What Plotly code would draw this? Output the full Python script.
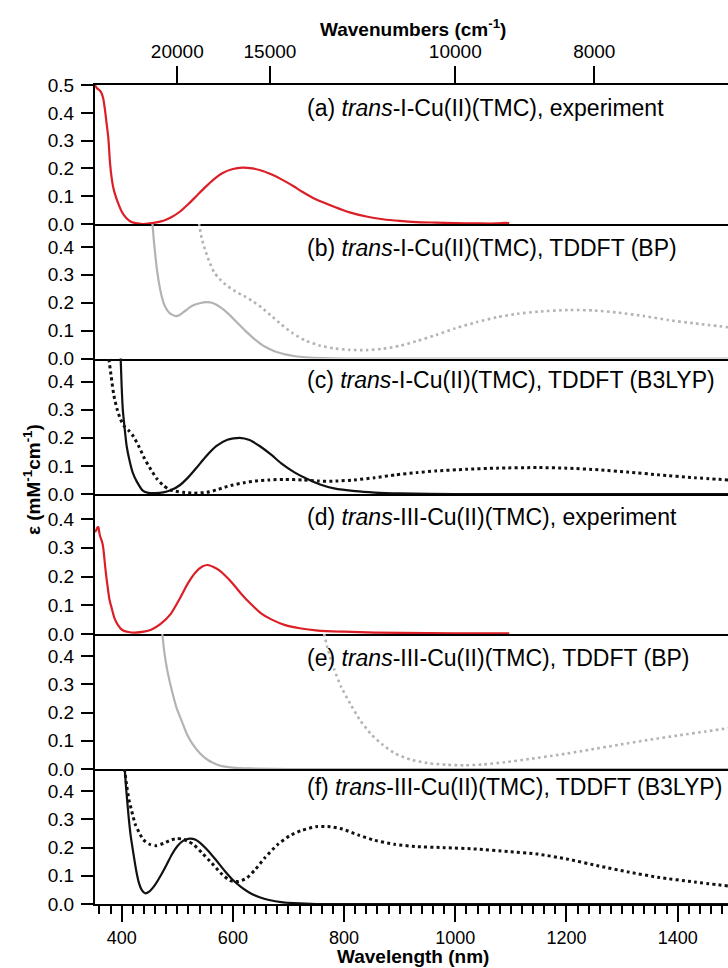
import plotly.graph_objects as go

FONT = "Liberation Sans, Arial, Helvetica, sans-serif"

# ---- (a) trans-I-Cu(II)(TMC), experiment ----
wl_a_exp = [352, 355, 358, 361, 364, 367, 370, 373, 376, 379, 382, 385, 390, 395, 400, 407,
            415, 425, 438, 450, 460, 475, 490, 505, 520, 535, 550, 565, 580, 600, 617, 635,
            655, 672, 690, 710, 724, 750, 782, 810, 840, 870, 900, 930, 965, 1000, 1040,
            1075, 1090, 1097]
eps_a_exp = [0.50, 0.49, 0.485, 0.48, 0.47, 0.45, 0.41, 0.36, 0.31, 0.22, 0.165, 0.13, 0.095,
             0.068, 0.045, 0.024, 0.01, 0.003, 0.0, 0.002, 0.005, 0.012, 0.025, 0.045, 0.072,
             0.102, 0.132, 0.16, 0.182, 0.198, 0.203, 0.2, 0.19, 0.176, 0.158, 0.135, 0.117,
             0.088, 0.062, 0.042, 0.027, 0.017, 0.011, 0.007, 0.005, 0.003, 0.002, 0.002,
             0.004, 0.003]

# ---- (b) trans-I-Cu(II)(TMC), TDDFT (BP) ----
wl_b_solid = [455, 458, 461, 464, 468, 473, 478, 486, 497, 505, 515, 526, 540, 553, 565, 578,
              592, 608, 622, 640, 658, 676, 694, 712, 731, 760, 800, 900, 1000, 1200, 1491]
eps_b_solid = [0.49, 0.42, 0.36, 0.31, 0.26, 0.215, 0.186, 0.163, 0.152, 0.157, 0.172, 0.188,
               0.198, 0.202, 0.198, 0.183, 0.16, 0.128, 0.1, 0.068, 0.042, 0.025, 0.015, 0.008,
               0.004, 0.001, 0.0, 0.0, 0.0, 0.0, 0.0]
wl_b_dot = [539, 544, 550, 557, 566, 576, 590, 605, 620, 636, 652, 668, 687, 708, 731, 757,
            782, 810, 840, 870, 899, 930, 965, 1000, 1038, 1075, 1111, 1150, 1206, 1250, 1294,
            1340, 1382, 1430, 1491]
eps_b_dot = [0.485, 0.43, 0.39, 0.35, 0.31, 0.285, 0.26, 0.24, 0.224, 0.205, 0.182, 0.155,
             0.122, 0.09, 0.064, 0.046, 0.036, 0.031, 0.03, 0.035, 0.045, 0.062, 0.084, 0.108,
             0.13, 0.148, 0.16, 0.168, 0.174, 0.172, 0.164, 0.152, 0.138, 0.126, 0.112]

# ---- (c) trans-I-Cu(II)(TMC), TDDFT (B3LYP) ----
wl_c_solid = [398, 400, 402, 405, 409, 414, 420, 427, 438, 448, 460, 475, 490, 505, 520, 535,
              550, 570, 590, 612, 630, 650, 670, 687, 710, 731, 757, 782, 820, 855, 900, 1000,
              1200, 1491]
eps_c_solid = [0.49, 0.38, 0.3, 0.24, 0.17, 0.12, 0.075, 0.045, 0.012, 0.004, 0.003, 0.006,
               0.015, 0.032, 0.06, 0.094, 0.13, 0.17, 0.193, 0.2, 0.192, 0.168, 0.138, 0.109,
               0.078, 0.056, 0.034, 0.02, 0.01, 0.005, 0.002, 0.0, 0.0, 0.0]
wl_c_dot = [377, 381, 386, 392, 398, 405, 413, 421, 432, 440, 450, 463, 475, 487, 497, 510,
            530, 553, 570, 585, 600, 620, 640, 665, 694, 725, 753, 785, 818, 855, 892, 930,
            965, 1020, 1075, 1148, 1200, 1258, 1310, 1367, 1430, 1491]
eps_c_dot = [0.48, 0.42, 0.35, 0.3, 0.265, 0.24, 0.225, 0.205, 0.165, 0.13, 0.095, 0.055,
             0.03, 0.015, 0.01, 0.006, 0.003, 0.006, 0.014, 0.024, 0.032, 0.04, 0.046, 0.05,
             0.052, 0.05, 0.046, 0.046, 0.05, 0.058, 0.068, 0.076, 0.082, 0.088, 0.092, 0.094,
             0.092, 0.086, 0.078, 0.068, 0.058, 0.05]

# ---- (d) trans-III-Cu(II)(TMC), experiment ----
wl_d_exp = [352, 354, 356, 358, 360, 362, 364, 366, 368, 370, 372, 375, 378, 382, 387, 393,
            401, 412, 424, 440, 453, 470, 489, 505, 519, 533, 545, 555, 565, 575, 585, 600,
            614, 632, 650, 670, 694, 720, 753, 800, 855, 950, 1050, 1097]
eps_d_exp = [0.355, 0.36, 0.37, 0.372, 0.35, 0.335, 0.325, 0.31, 0.28, 0.24, 0.205, 0.16,
             0.12, 0.09, 0.055, 0.032, 0.014, 0.007, 0.005, 0.008, 0.015, 0.035, 0.072, 0.125,
             0.176, 0.215, 0.235, 0.24, 0.233, 0.222, 0.205, 0.175, 0.142, 0.105, 0.073, 0.05,
             0.031, 0.02, 0.012, 0.008, 0.005, 0.003, 0.002, 0.002]

# ---- (e) trans-III-Cu(II)(TMC), TDDFT (BP) ----
wl_e_solid = [473, 477, 482, 490, 499, 508, 517, 527, 541, 555, 577, 600, 630, 700, 1000, 1491]
eps_e_solid = [0.48, 0.41, 0.35, 0.28, 0.215, 0.17, 0.125, 0.09, 0.055, 0.032, 0.012, 0.005,
               0.002, 0.0, 0.0, 0.0]
wl_e_dot = [764, 770, 776, 782, 795, 811, 828, 848, 870, 892, 920, 950, 985, 1016, 1050, 1089,
            1135, 1185, 1240, 1294, 1350, 1404, 1450, 1491]
eps_e_dot = [0.48, 0.43, 0.39, 0.355, 0.29, 0.232, 0.175, 0.125, 0.085, 0.055, 0.033, 0.021,
             0.015, 0.013, 0.016, 0.024, 0.036, 0.05, 0.068, 0.086, 0.104, 0.12, 0.133, 0.145]

# ---- (f) trans-III-Cu(II)(TMC), TDDFT (B3LYP) ----
wl_f_solid = [405, 408, 412, 416, 421, 426, 431, 436, 442, 450, 460, 470, 481, 490, 500, 511,
              522, 533, 545, 555, 570, 585, 600, 615, 630, 648, 665, 690, 710, 750, 1000, 1491]
eps_f_solid = [0.49, 0.41, 0.32, 0.245, 0.18, 0.12, 0.075, 0.05, 0.038, 0.045, 0.068, 0.1,
               0.14, 0.175, 0.205, 0.225, 0.232, 0.228, 0.21, 0.19, 0.155, 0.118, 0.085, 0.06,
               0.04, 0.024, 0.014, 0.006, 0.003, 0.0, 0.0, 0.0]
wl_f_dot = [405, 409, 413, 418, 424, 431, 439, 450, 462, 475, 490, 500, 510, 520, 530, 545,
            562, 578, 595, 610, 625, 640, 658, 680, 702, 725, 752, 775, 797, 825, 855, 890,
            928, 980, 1038, 1095, 1148, 1200, 1258, 1310, 1367, 1430, 1491]
eps_f_dot = [0.48, 0.42, 0.37, 0.33, 0.285, 0.255, 0.228, 0.212, 0.207, 0.215, 0.228, 0.232,
             0.23, 0.222, 0.21, 0.18, 0.145, 0.11, 0.083, 0.08, 0.092, 0.122, 0.165, 0.21,
             0.242, 0.262, 0.275, 0.274, 0.266, 0.245, 0.226, 0.212, 0.204, 0.2, 0.195, 0.186,
             0.177, 0.16, 0.135, 0.114, 0.094, 0.078, 0.064]

panel_labels = [
    "(a) <i>trans</i>-I-Cu(II)(TMC), experiment",
    "(b) <i>trans</i>-I-Cu(II)(TMC), TDDFT (BP)",
    "(c) <i>trans</i>-I-Cu(II)(TMC), TDDFT (B3LYP)",
    "(d) <i>trans</i>-III-Cu(II)(TMC), experiment",
    "(e) <i>trans</i>-III-Cu(II)(TMC), TDDFT (BP)",
    "(f) <i>trans</i>-III-Cu(II)(TMC), TDDFT (B3LYP)",
]
wavenumber_ticks = [20000, 15000, 10000, 8000]
wavelength_ticks = [400, 600, 800, 1000, 1200, 1400]

RED = "#dc1e26"
GRAY = "#b3b3b3"
BLACK = "#111111"

# layout geometry (pixels)
W, H = 728, 968
ML, MR, MT, MB = 95, 0, 85, 64
PH = H - MT - MB
bounds_px = [85, 224, 358.5, 494, 634, 769, 904]     # panel top/bottom edges
y_max = [0.5005, 0.482, 0.482, 0.487, 0.479, 0.479]
label_y_px = [108, 248, 380, 517, 658, 787]
x_range = [352, 1490.5]


def py(p):
    return (H - MB - p) / PH


def px(p):
    return (p - ML) / (W - ML - MR)


fig = go.Figure()

series = [
    [(wl_a_exp, eps_a_exp, RED, 2.2, "solid")],
    [(wl_b_solid, eps_b_solid, GRAY, 2.2, "solid"), (wl_b_dot, eps_b_dot, GRAY, 2.6, "2.6px,3.4px")],
    [(wl_c_solid, eps_c_solid, BLACK, 2.2, "solid"), (wl_c_dot, eps_c_dot, BLACK, 3, "3px,3.2px")],
    [(wl_d_exp, eps_d_exp, RED, 2.2, "solid")],
    [(wl_e_solid, eps_e_solid, GRAY, 2.2, "solid"), (wl_e_dot, eps_e_dot, GRAY, 2.6, "2.6px,3.4px")],
    [(wl_f_solid, eps_f_solid, BLACK, 2.2, "solid"), (wl_f_dot, eps_f_dot, BLACK, 3, "3px,3.2px")],
]

layout = dict(
    width=W, height=H,
    margin=dict(l=ML, r=MR, t=MT, b=MB, pad=0),
    paper_bgcolor="white", plot_bgcolor="white",
    showlegend=False,
    font=dict(family=FONT, size=19, color="black"),
)

annotations = []
for i in range(6):
    n = i + 1
    xa = "x" if n == 1 else f"x{n}"
    ya = "y" if n == 1 else f"y{n}"
    for wl, eps, col, lw, dash in series[i]:
        fig.add_trace(go.Scatter(x=wl, y=eps, mode="lines", xaxis=xa, yaxis=ya,
                                 line=dict(color=col, width=lw, dash=dash, shape="spline",
                                           smoothing=0.6),
                                 hoverinfo="skip"))
    dom = [py(bounds_px[i + 1]), py(bounds_px[i])]
    xkey = "xaxis" if n == 1 else f"xaxis{n}"
    ykey = "yaxis" if n == 1 else f"yaxis{n}"
    xa_cfg = dict(domain=[0, 1], range=x_range, anchor=ya, showgrid=False, zeroline=False,
                  showline=True, linecolor="black", linewidth=2,
                  showticklabels=False, ticks="")
    if n > 1:
        xa_cfg["matches"] = "x"
    if n == 1:
        xa_cfg.update(side="top", mirror=True, ticks="outside", ticklen=17, tickwidth=2,
                      tickcolor="black", showticklabels=True,
                      tickvals=[1e7 / v for v in wavenumber_ticks],
                      ticktext=[str(v) for v in wavenumber_ticks],
                      tickfont=dict(size=19), ticklabelstandoff=0)
    if n == 6:
        xa_cfg.update(ticks="outside", ticklen=16, tickwidth=2, tickcolor="black",
                      showticklabels=True, tickvals=wavelength_ticks,
                      tickfont=dict(size=18), ticklabelstandoff=0,
                      minor=dict(dtick=20, tick0=0, ticks="outside", ticklen=8,
                                 tickwidth=2, tickcolor="black"))
    layout[xkey] = xa_cfg
    layout[ykey] = dict(domain=dom, range=[0, y_max[i]], anchor=xa, showgrid=False,
                        zeroline=False, showline=True, linecolor="black", linewidth=2,
                        ticks="outside", ticklen=12, tickwidth=2, tickcolor="black",
                        dtick=0.1, tick0=0, tickformat=".1f", tickfont=dict(size=19),
                        ticklabelstandoff=3)
    annotations.append(dict(text=panel_labels[i], xref="paper", yref="paper",
                            x=px(304.5), y=py(label_y_px[i]), xanchor="left",
                            yanchor="middle", showarrow=False,
                            font=dict(size=23, family=FONT, color="black")))

annotations += [
    dict(text="<b>Wavenumbers (cm<sup>-1</sup>)</b>", xref="paper", yref="paper",
         x=px(413), y=py(28), xanchor="center", yanchor="middle", showarrow=False,
         font=dict(size=19, family=FONT)),
    dict(text="<b>Wavelength (nm)</b>", xref="paper", yref="paper",
         x=px(413), y=py(H), xanchor="center", yanchor="bottom", showarrow=False,
         borderpad=0, font=dict(size=19, family=FONT)),
    dict(text="<b>ε (mM<sup>-1</sup>cm<sup>-1</sup>)</b>", xref="paper", yref="paper",
         x=px(32), y=py(480), xanchor="center", yanchor="middle", textangle=-90,
         showarrow=False, font=dict(size=19, family=FONT)),
]
layout["annotations"] = annotations
fig.update_layout(**layout)

fig.write_html("out.html")
